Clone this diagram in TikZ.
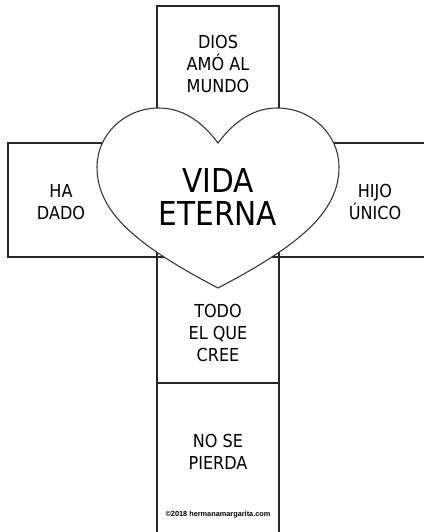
\documentclass[tikz,border=0pt]{standalone}
\usepackage{fontspec}
\setmainfont{DejaVu Sans Condensed}
\newfontfamily\firmafont{Liberation Sans}
\begin{document}
\begin{tikzpicture}[x=0.75pt,y=-0.75pt]
			\tikzset{
				scatola/.style={line width=1.1pt, draw=black!85},
				cuore/.style={line width=0.8pt, draw=black!80, fill=white},
				testo/.style={align=center, inner sep=0pt, font=\fontsize{13.4}{16.5}\selectfont},
				grande/.style={align=center, inner sep=0pt, font=\fontsize{24.7}{24.75}\selectfont},
				firma/.style={inner sep=0pt, font=\firmafont\bfseries\fontsize{5.5}{6}\selectfont}
			}
			\useasboundingbox (0,0) rectangle (424,532);

			% Disegna la croce
			\draw[scatola] (157,6) rectangle (279,143);
			\draw[scatola] (8,143) rectangle (157,257);
			\draw[scatola] (424,143) -- (279,143) -- (279,257) -- (424,257);
			\draw[scatola] (157,257) rectangle (279,383);
			\draw[scatola] (157,383) -- (157,532);
			\draw[scatola] (279,383) -- (279,532);

			% Disegna il cuore
			\draw[cuore] (218,143) .. controls (235,120) and (255,108) .. (277,108)
				.. controls (312,108) and (339,135) .. (339,167)
				.. controls (339,212) and (300,245) .. (218,288)
				.. controls (136,245) and (97,212) .. (97,167)
				.. controls (97,135) and (124,108) .. (159,108)
				.. controls (181,108) and (201,120) .. cycle;

			% Definisci i nodi
			\node[testo] (dios) at (218,64) {DIOS\\AMÓ AL\\MUNDO};
			\node[grande] (vida) at (218,197) {VIDA\\ETERNA};
			\node[testo] (dado) at (61,202) {HA\\DADO};
			\node[testo] (hijo) at (375,202) {HIJO\\ÚNICO};
			\node[testo] (cree) at (218,333) {TODO\\EL QUE\\CREE};
			\node[testo] (pierda) at (218,452) {NO SE\\PIERDA};
			\node[firma] (firma) at (218,515) {©2018 hermanamargarita.com};
		\end{tikzpicture}
\end{document}
